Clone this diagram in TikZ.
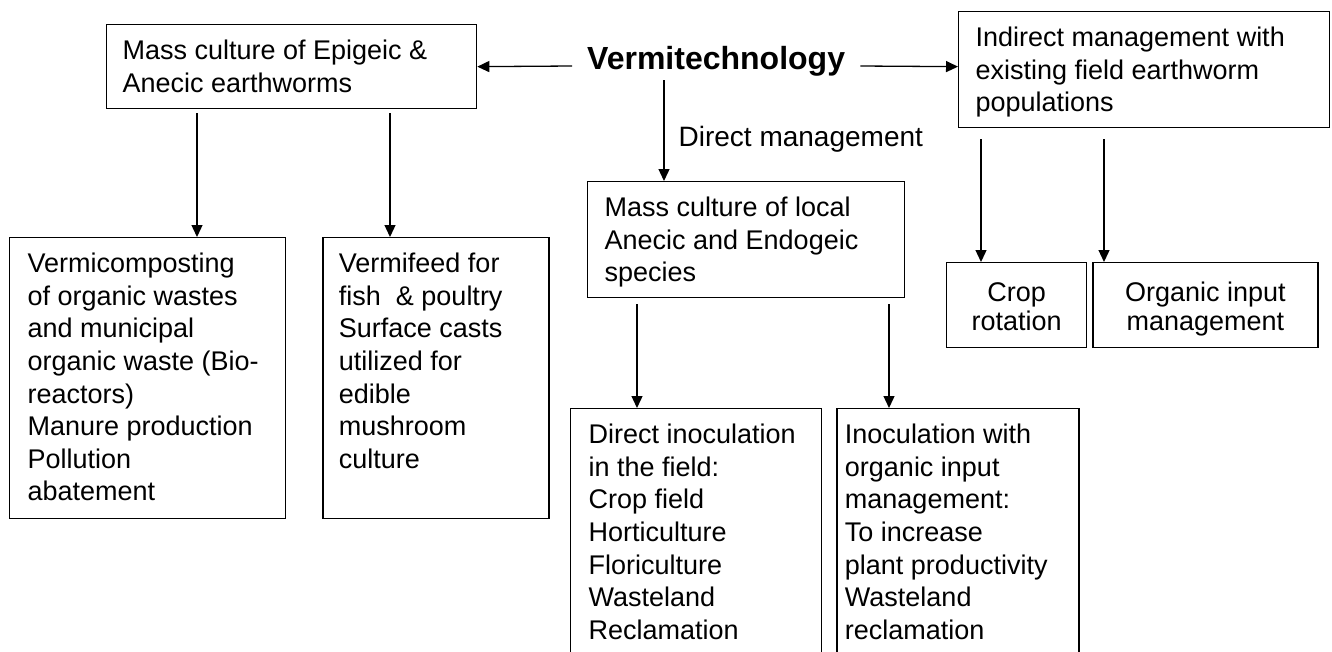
\documentclass[tikz,border=0pt]{standalone}
\usepackage{fontspec}
\setmainfont{Liberation Sans}
\usepackage{tikz}
\usetikzlibrary{positioning, arrows.meta}

\newcommand{\boxtext}[3]{\parbox[c][#2][t]{#1}{\raggedright\noindent\rule{0pt}{35pt}#3}}
\newcommand{\midtext}[3]{\parbox[c][#2][t]{#1}{\centering\noindent\rule{0pt}{39pt}#3}}

\begin{document}
\begin{tikzpicture}[
    x=1pt, y=-1pt,
    every node/.style={font=\fontsize{27}{32.6}\selectfont},
    block/.style={draw, line width=1.3pt, inner xsep=#1, inner ysep=0pt, anchor=north west},
    block/.default=16pt,
    arr/.style={-{Triangle[length=12pt, width=11pt]}, line width=1.3pt},
]
    \clip (0,0) rectangle (1332,651);
    \node[font=\fontsize{32}{38}\selectfont\bfseries, inner sep=0pt, anchor=base west] (vt) at (587,69) {Vermitechnology};
    \node[block] (mcepi) at (106,24) {\boxtext{338pt}{84pt}{Mass culture of Epigeic \&\\Anecic earthworms}};
    \node[block=17pt] (indir) at (958,11) {\boxtext{337pt}{116pt}{Indirect management with\\existing field earthworm\\populations}};
    \node[block=17pt] (mclocal) at (587,181) {\boxtext{283pt}{116pt}{Mass culture of local\\Anecic and Endogeic\\species}};
    \node[block=18pt] (vcomp) at (9,237) {\boxtext{240pt}{281pt}{Vermicomposting\\of organic wastes\\and municipal\\organic waste (Bio-\\reactors)\\Manure production\\Pollution\\abatement}};
    \node[block, right=36pt of vcomp] (vfeed) {\boxtext{194pt}{281pt}{Vermifeed for\\fish~ \& poultry\\Surface casts\\utilized for\\edible\\mushroom\\culture}};
    \node[block=18pt] (dinoc) at (570,408) {\boxtext{215pt}{260pt}{Direct inoculation\\in the field:\\Crop field\\Horticulture\\Floriculture\\Wasteland\\Reclamation}};
    \node[block=8pt, right=14pt of dinoc] (oinoc) {\boxtext{226pt}{260pt}{Inoculation with\\organic input\\management:\\To increase\\plant productivity\\Wasteland\\reclamation}};
    \node[block=0pt, font=\fontsize{27}{29}\selectfont] (crop) at (946,262) {\midtext{140pt}{85pt}{Crop\\rotation}};
    \node[block=0pt, font=\fontsize{27}{29}\selectfont, right=5pt of crop] (orgin) {\midtext{225pt}{85pt}{Organic input\\management}};

    \draw[arr] ([xshift=-15pt,yshift=3pt]vt.base west) -- (mcepi.east);
    \draw[arr] ([xshift=15pt,yshift=3pt]vt.base east) -- (indir.west |- mcepi.east);
    \draw[arr, shorten <=11pt] (vt.base -| 664,0) -- node[pos=0.625, right=14pt, inner sep=0pt, font=\fontsize{28}{32}\selectfont] (dm) {Direct management} (mclocal.north -| 664,0);
    \draw[arr, shorten <=4pt] (mcepi.south -| 197,0) -- (vcomp.north -| 197,0);
    \draw[arr, shorten <=4pt] (mcepi.south -| 390,0) -- (vfeed.north -| 390,0);
    \draw[arr, shorten <=6pt] (mclocal.south -| 637,0) -- (dinoc.north -| 637,0);
    \draw[arr, shorten <=6pt] (mclocal.south -| 889,0) -- (oinoc.north -| 889,0);
    \draw[arr, shorten <=11pt] (indir.south -| 981,0) -- (crop.north -| 981,0);
    \draw[arr, shorten <=11pt] (indir.south -| 1104,0) -- (orgin.north -| 1104,0);
\end{tikzpicture}
\end{document}
